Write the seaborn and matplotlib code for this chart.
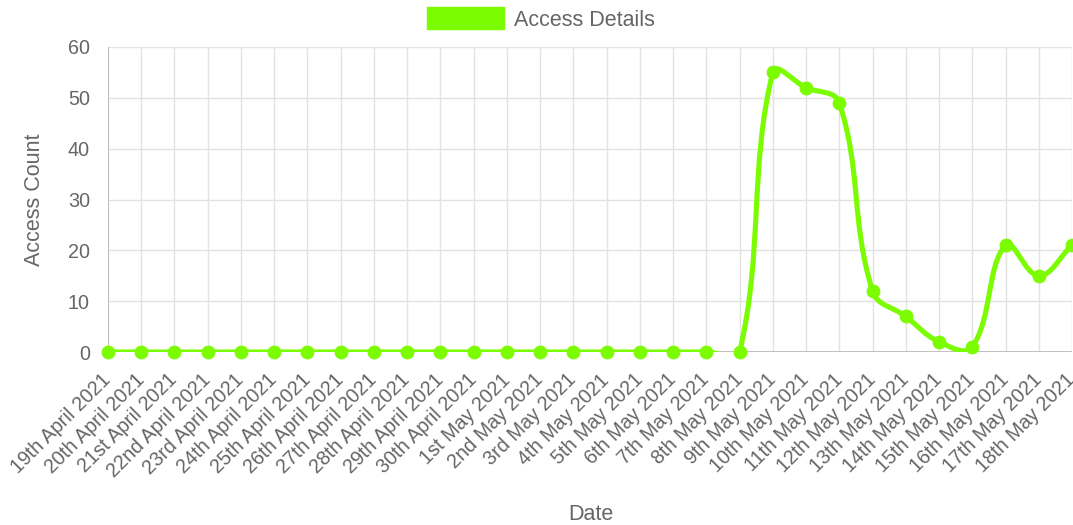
import numpy as np
import pandas as pd
from matplotlib import pyplot as plt
from matplotlib.path import Path
from matplotlib.patches import PathPatch, Patch

import seaborn as sns

dates = [
    "19th April 2021", "20th April 2021", "21st April 2021", "22nd April 2021",
    "23rd April 2021", "24th April 2021", "25th April 2021", "26th April 2021",
    "27th April 2021", "28th April 2021", "29th April 2021", "30th April 2021",
    "1st May 2021", "2nd May 2021", "3rd May 2021", "4th May 2021",
    "5th May 2021", "6th May 2021", "7th May 2021", "8th May 2021",
    "9th May 2021", "10th May 2021", "11th May 2021", "12th May 2021",
    "13th May 2021", "14th May 2021", "15th May 2021", "16th May 2021",
    "17th May 2021", "18th May 2021",
]
access_counts = [
    0, 0, 0, 0, 0, 0, 0, 0, 0, 0,
    0, 0, 0, 0, 0, 0, 0, 0, 0, 0,
    55, 52, 49, 12, 7, 2, 1, 21, 15, 21,
]
y_ticks = [0, 10, 20, 30, 40, 50, 60]

GREEN = "#7cfc00"
TEXT = "#666666"
GRID = "#e2e2e2"
ZERO = "#bbbbbb"

sns.set_style("white")
plt.rcParams['font.family'] = ['Liberation Sans', 'DejaVu Sans']

df = pd.DataFrame({"date": dates, "count": access_counts})
df["idx"] = np.arange(len(df))

fig = plt.figure(figsize=(10.73, 5.25), dpi=100)
ax = fig.add_axes([108 / 1073, 1 - 352 / 525, (1072 - 108) / 1073, (352 - 47) / 525])
ax.set_xlim(0, len(dates) - 1)
ax.set_ylim(0, 60)

# smooth line like Chart.js (tension 0.4), computed in display space
pts = ax.transData.transform(np.column_stack([df["idx"], df["count"]]))
t = 0.4
verts, codes = [tuple(pts[0])], [Path.MOVETO]
ctrl = []
for i in range(len(pts)):
    prev = pts[max(i - 1, 0)]
    cur = pts[i]
    nxt = pts[min(i + 1, len(pts) - 1)]
    d01 = np.hypot(*(cur - prev))
    d12 = np.hypot(*(nxt - cur))
    tot = d01 + d12
    s01 = d01 / tot if tot else 0
    s12 = d12 / tot if tot else 0
    ctrl.append((cur - t * s01 * (nxt - prev), cur + t * s12 * (nxt - prev)))
for i in range(1, len(pts)):
    verts += [tuple(ctrl[i - 1][1]), tuple(ctrl[i][0]), tuple(pts[i])]
    codes += [Path.CURVE4] * 3
inv = ax.transData.inverted()
path = Path(inv.transform(np.array(verts)), codes)
ax.add_patch(PathPatch(path, facecolor="none", edgecolor=GREEN, lw=3.7,
                       capstyle="round", joinstyle="round", zorder=3))

sns.scatterplot(data=df, x="idx", y="count", color=GREEN, edgecolor=GREEN,
                s=85, ax=ax, zorder=4, clip_on=False, legend=False)

ax.set_xticks(df["idx"])
ax.set_xticklabels(dates, rotation=45, ha="right", va="center", rotation_mode="anchor")
ax.set_yticks(y_ticks)
ax.grid(True, color=GRID, lw=1)
ax.axhline(0, color=ZERO, lw=1.3, zorder=2)
ax.axvline(0, color=ZERO, lw=1.3, zorder=2)
for s in ax.spines.values():
    s.set_visible(False)
ax.tick_params(axis="both", labelsize=14.2, colors=TEXT, color=GRID)
ax.tick_params(axis="y", length=11, pad=2)
ax.tick_params(axis="x", length=8, pad=10)

ax.set_xlabel("Date", fontsize=15.5, color=TEXT)
ax.set_ylabel("Access Count", fontsize=15.5, color=TEXT)
ax.xaxis.set_label_coords((591 - 108) / (1072 - 108), -(504 - 352) / (352 - 47))
ax.yaxis.set_label_coords(-(108 - 45) / (1072 - 108), (352 - 200) / (352 - 47))

handle = Patch(facecolor=GREEN, edgecolor=GREEN)
fig.legend([handle], ["Access Details"], loc="center", bbox_to_anchor=(541 / 1073, 1 - 19 / 525),
           frameon=False, fontsize=15.5, handlelength=3.6, handleheight=1.2,
           handletextpad=0.45, labelcolor=TEXT)

fig.savefig("out.png", dpi=100)
